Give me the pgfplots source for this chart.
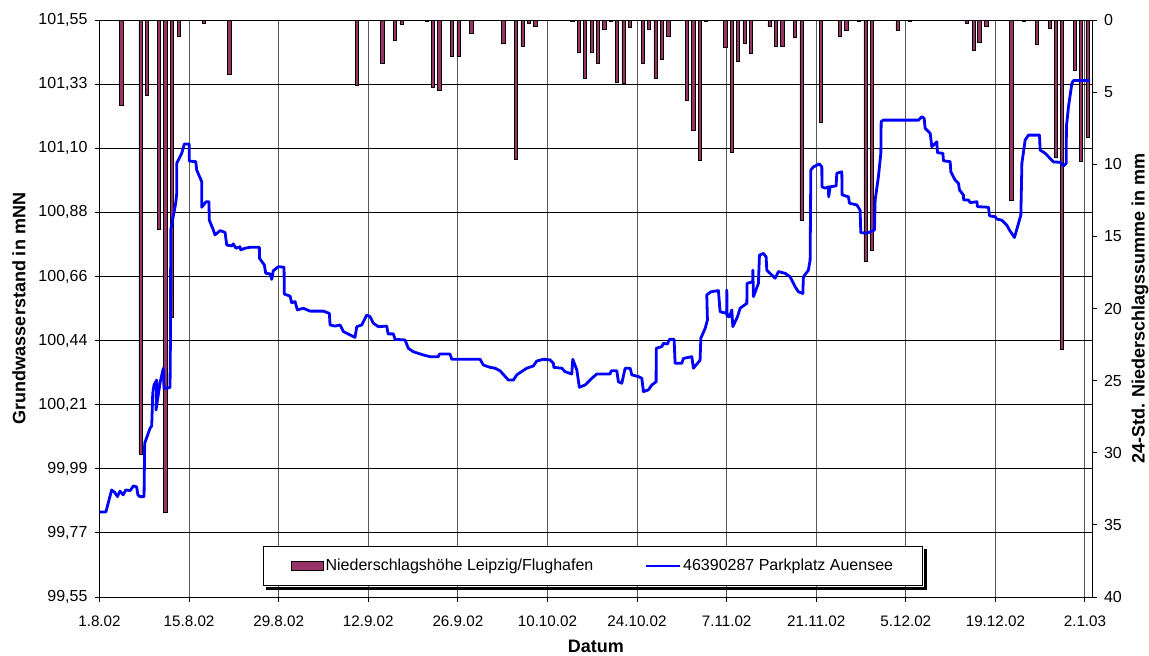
\documentclass[border=0pt]{standalone}
\usepackage{fontspec}
\setmainfont{Liberation Sans}
\usepackage{pgfplots}
\pgfplotsset{compat=1.18}
\usepackage{pgfplotstable}
\definecolor{barc}{RGB}{153,51,102}
\definecolor{linec}{RGB}{0,0,255}

\pgfplotstableread{
x y
0.0 99.845
1.0 99.845
1.9 99.921
2.4 99.912
2.8 99.898
3.2 99.917
3.7 99.904
4.1 99.921
4.8 99.919
5.3 99.935
5.8 99.932
6.0 99.904
6.3 99.898
6.96 99.898
7.06 100.083
7.9 100.135
8.16 100.143
8.32 100.256
8.52 100.285
8.94 100.302
8.83 100.198
9.45 100.291
9.97 100.343
10.08 100.273
11.02 100.276
11.10 100.475
11.13 100.822
11.91 100.915
12.07 100.949
12.07 101.053
12.85 101.088
13.25 101.120
14.04 101.120
14.04 101.061
15.04 101.059
15.19 101.030
15.97 100.990
15.97 100.901
16.65 100.920
17.11 100.920
17.15 100.857
17.79 100.822
18.05 100.805
18.83 100.820
19.62 100.814
19.88 100.770
20.66 100.767
20.91 100.774
21.33 100.759
21.96 100.764
22.07 100.753
22.74 100.759
23.52 100.762
24.98 100.762
25.0 100.724
25.76 100.701
25.98 100.672
26.65 100.670
26.92 100.651
27.16 100.681
27.95 100.695
28.84 100.693
28.88 100.600
29.78 100.593
30.04 100.570
30.56 100.574
30.92 100.545
31.85 100.551
32.90 100.541
34.98 100.541
35.92 100.533
36.03 100.493
36.81 100.489
37.59 100.493
38.11 100.470
39.93 100.450
40.20 100.487
40.98 100.493
41.76 100.527
42.28 100.522
42.80 100.499
43.58 100.487
44.89 100.489
45.1 100.462
45.92 100.462
46.19 100.443
47.75 100.441
48.26 100.412
49.05 100.400
50.61 100.389
51.66 100.383
52.95 100.383
53.11 100.392
54.78 100.392
55.05 100.374
59.47 100.374
59.99 100.354
61.04 100.346
61.82 100.343
62.60 100.334
63.90 100.302
64.68 100.302
65.21 100.320
65.72 100.328
66.77 100.343
67.80 100.351
68.33 100.368
69.37 100.374
70.41 100.372
70.93 100.360
71.0 100.346
72.24 100.343
72.76 100.331
73.80 100.323
73.96 100.374
74.59 100.337
74.99 100.277
75.88 100.285
76.40 100.296
76.93 100.308
77.71 100.323
79.79 100.323
79.95 100.334
80.84 100.334
81.09 100.296
81.62 100.291
82.14 100.343
82.92 100.343
83.18 100.320
84.21 100.314
84.75 100.308
85.00 100.262
85.78 100.268
86.31 100.285
86.98 100.296
87.0 100.412
87.87 100.418
88.12 100.429
88.75 100.427
89.06 100.443
89.79 100.443
89.95 100.360
91.00 100.360
91.25 100.377
92.56 100.383
92.81 100.343
93.85 100.371
93.97 100.447
94.64 100.481
95.00 100.510
94.9 100.597
95.53 100.608
96.72 100.612
96.98 100.539
98.0 100.533
98.03 100.614
98.08 100.524
98.44 100.521
98.81 100.545
98.97 100.487
99.69 100.521
100.11 100.551
101.16 100.568
101.2 100.637
102.09 100.643
102.1 100.683
102.19 100.591
102.97 100.637
103.13 100.735
103.75 100.741
104.17 100.729
104.28 100.683
105.06 100.666
105.58 100.655
106.10 100.678
107.14 100.672
107.92 100.660
108.71 100.625
109.22 100.608
109.91 100.602
110.00 100.660
110.78 100.683
111.05 100.718
111.16 101.030
111.56 101.041
112.50 101.051
112.88 101.041
112.9 100.972
113.40 100.967
113.91 100.972
113.95 100.937
114.18 100.972
115.11 100.975
115.22 101.019
116.00 101.024
116.05 100.944
117.04 100.937
117.19 100.915
118.35 100.909
118.86 100.891
118.97 100.813
119.91 100.811
121.10 100.822
121.21 100.926
121.72 101.007
122.10 101.088
122.15 101.198
122.51 101.203
127.98 101.203
128.51 101.215
128.87 101.209
129.02 101.175
129.81 101.157
130.07 101.111
130.85 101.128
130.95 101.090
131.79 101.088
131.89 101.062
132.93 101.059
133.04 101.024
133.71 100.995
134.23 100.984
134.39 100.961
135.01 100.943
135.05 100.926
135.79 100.926
136.06 100.917
137.11 100.920
137.20 100.903
138.92 100.901
139.08 100.871
139.97 100.868
140.23 100.860
141.01 100.856
141.79 100.839
142.20 100.822
142.98 100.796
143.98 100.874
144.14 101.053
144.65 101.134
145.17 101.151
146.89 101.151
147.00 101.099
147.78 101.088
148.56 101.070
149.08 101.058
150.12 101.057
150.64 101.044
151.06 101.053
151.1 101.180
151.42 101.249
151.95 101.330
152.20 101.340
154.81 101.340
}\gwtable

\pgfplotstableread{
x mm
3.4 5.9
6.4 30.1
7.4 5.2
9.3 14.5
10.3 34.1
11.3 20.6
12.4 1.1
16.3 0.23
20.3 3.8
40.2 4.5
44.2 3.0
46.2 1.4
47.2 0.3
51.1 0.12
52.1 4.7
53.1 4.9
55.1 2.55
56.1 2.55
58.1 0.9
63.1 1.6
65.1 9.65
66.1 1.8
67.1 0.23
68.1 0.42
73.9 0.12
74.9 2.24
75.9 4.05
76.9 2.24
77.9 3.0
78.9 0.62
79.9 0.12
80.9 4.35
81.9 4.4
82.9 0.53
84.9 3.0
85.9 0.62
86.9 4.05
87.9 2.73
88.9 1.1
91.8 5.6
92.8 7.65
93.8 9.75
94.8 0.12
97.8 1.92
98.8 9.2
99.8 2.84
100.8 1.62
101.8 2.3
104.7 0.42
105.7 1.8
106.7 1.8
108.7 1.23
109.7 13.9
112.7 7.1
115.7 1.1
116.7 0.72
118.6 0.12
119.7 16.7
120.7 16.0
124.7 0.69
126.6 0.12
135.5 0.23
136.6 2.13
137.5 1.57
138.6 0.42
142.5 12.5
144.5 0.12
146.5 1.69
148.5 0.6
149.5 9.5
150.4 22.8
152.4 3.5
153.4 9.8
154.4 8.1
}\raintable

\begin{document}
\begin{tikzpicture}
\path[use as bounding box] (-49.75pt,-29pt) rectangle (524.75pt,298.5pt);
% base axis: grid, left and bottom ticks, labels
\begin{axis}[
  scale only axis, width=496.25pt, height=288.5pt,
  xmin=0, xmax=155.1, ymin=99.55, ymax=101.55,
  xtick={0,14,28,42,56,70,84,98,112,126,140,154},
  xticklabels={1.8.02,15.8.02,29.8.02,12.9.02,26.9.02,10.10.02,24.10.02,7.11.02,21.11.02,5.12.02,19.12.02,2.1.03},
  ytick={99.55,99.77222,99.99444,100.21667,100.43889,100.66111,100.88333,101.10556,101.32778,101.55},
  yticklabels={{99,55},{99,77},{99,99},{100,21},{100,44},{100,66},{100,88},{101,10},{101,33},{101,55}},
  xtick pos=bottom, ytick pos=left, tick align=outside, major tick length=2.5pt,
  xmajorgrids, ymajorgrids,
  x grid style={black!65, line width=0.5pt},
  y grid style={black, line width=0.5pt},
  axis line style={black, line width=0.5pt},
  tick style={black, line width=0.5pt},
  xticklabel style={font=\fontsize{7.6}{9}\selectfont, yshift=-3.5pt},
  yticklabel style={font=\fontsize{8}{9.6}\selectfont},
  xlabel={Datum}, ylabel={Grundwasserstand in mNN},
  label style={font=\bfseries\fontsize{9}{10.8}\selectfont},
  xlabel style={at={(axis description cs:0.5,0)}, anchor=center, yshift=-24.5pt},
  ylabel style={at={(axis description cs:-0.0811,0.5)}, anchor=center},
]
\end{axis}
% precipitation bars on right axis
\begin{axis}[
  scale only axis, width=496.25pt, height=288.5pt,
  xmin=0, xmax=155.1, ymin=0, ymax=40, y dir=reverse,
  hide x axis, axis y line*=right,
  axis line style={-, black, line width=0.5pt},
  ytick={0,5,...,40}, tick align=outside, major tick length=2.5pt,
  tick style={black, line width=0.5pt},
  /pgf/number format/assume math mode=true,
  yticklabel style={font=\fontsize{8}{9.6}\selectfont},
  ylabel={24-Std. Niederschlagssumme in mm},
  ylabel style={at={(axis description cs:1.0484,0.5)}, anchor=center, font=\bfseries\fontsize{9}{10.8}\selectfont},
  ybar, bar width=0.5,
]
\addplot[fill=barc, draw=black, line width=0.35pt] table[x=x,y=mm]{\raintable};
\end{axis}
% groundwater line and legend
\begin{axis}[
  scale only axis, width=496.25pt, height=288.5pt,
  xmin=0, xmax=155.1, ymin=99.55, ymax=101.55,
  hide axis,
  legend columns=2,
  legend cell align=left,
  legend style={name=L, at={(axis description cs:0.4972,0.0537)}, anchor=center,
    draw=black, line width=0.5pt, fill=white,
    inner xsep=13.75pt, inner ysep=5.25pt,
    nodes={inner sep=1pt},
    font=\fontsize{8}{9.6}\selectfont,
    /tikz/every even column/.append style={column sep=24.5pt}},
]
\addlegendimage{legend image code/.code={\draw[fill=barc,draw=black,line width=0.4pt] (0pt,-2.2pt) rectangle (16pt,2.2pt);}}
\addlegendentry{Niederschlagshöhe Leipzig/Flughafen}
\addplot[linec, line width=1.4pt, line join=round, legend image code/.code={\draw[linec,line width=1.4pt] (0pt,0pt) -- (17pt,0pt);}] table[x=x,y=y]{\gwtable};
\addlegendentry{46390287 Parkplatz Auensee}
\end{axis}
% legend shadow (bottom and right strips)
\fill[black] ([xshift=1.75pt,yshift=-0.25pt]L.south west) rectangle ([xshift=1.75pt,yshift=-1.75pt]L.south east);
\fill[black] ([xshift=0.25pt,yshift=-1.75pt]L.south east) rectangle ([xshift=1.75pt,yshift=-1.75pt]L.north east);
\end{tikzpicture}
\end{document}
